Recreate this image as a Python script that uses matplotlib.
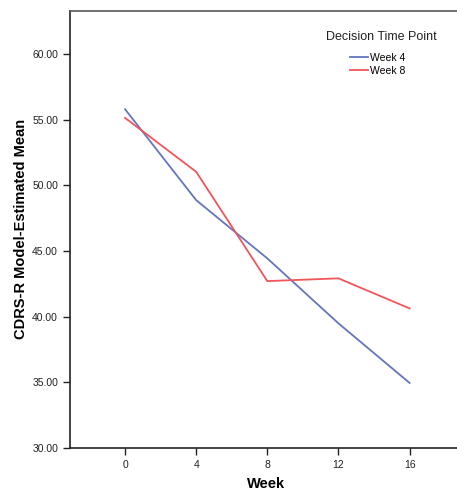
import matplotlib.pyplot as plt

weeks = [0, 4, 8, 12, 16]
week4 = [55.81, 48.88, 44.44, 39.49, 34.95]
week8 = [55.15, 51.04, 42.71, 42.92, 40.63]
yticks = [30, 35, 40, 45, 50, 55, 60]

plt.rcParams['font.family'] = ['Liberation Sans', 'DejaVu Sans']

fig = plt.figure(figsize=(4.57, 4.96), dpi=100)
ax = fig.add_axes([0.153, 0.097, 0.86, 0.881])

ax.plot(weeks, week4, color='#6474bf', lw=1.3, label='Week 4')
ax.plot(weeks, week8, color='#f0555b', lw=1.3, label='Week 8')

ax.set_xlim(-3.1, 19.0)
ax.set_ylim(30, 63.3)
ax.set_xticks(weeks)
ax.set_yticks(yticks)
ax.set_yticklabels(['%.2f' % v for v in yticks])
ax.tick_params(labelsize=7.5, length=5, width=1, colors='#222222')

for s in ['left', 'bottom']:
    ax.spines[s].set_color('#222222')
    ax.spines[s].set_linewidth(1.2)
ax.spines['top'].set_color('#555555')
ax.spines['top'].set_linewidth(1.2)
ax.spines['right'].set_visible(False)

ax.set_xlabel('Week', fontsize=10.5, fontweight='bold', labelpad=5)
ax.set_ylabel('CDRS-R Model-Estimated Mean', fontsize=10.5, fontweight='bold', labelpad=3)

# legend title drawn separately so it sits above the entries like SPSS
fig.text(381 / 457, 1 - 37 / 496, 'Decision Time Point', fontsize=9,
         ha='center', va='center', color='#222222')
leg = ax.legend(loc='upper left', bbox_to_anchor=(350 / 457, 1 - 53 / 496),
                bbox_transform=fig.transFigure, frameon=False, fontsize=7.5,
                handlelength=1.7, handletextpad=0.2, labelspacing=0.3,
                borderpad=0, borderaxespad=0)

fig.savefig('out.png', dpi=100)
